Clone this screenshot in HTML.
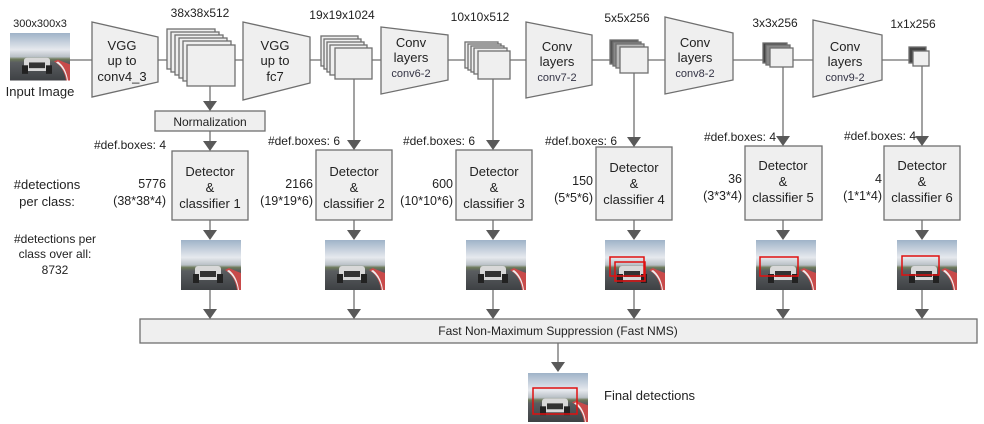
<!DOCTYPE html>
<html><head><meta charset="utf-8"><style>
html,body{margin:0;padding:0;background:#fff;}
svg{display:block;font-family:"Liberation Sans",Arial,sans-serif;}
</style></head><body>
<svg width="984" height="424" viewBox="0 0 984 424" xmlns="http://www.w3.org/2000/svg">
<defs>
<linearGradient id="sky" x1="0" y1="0" x2="0" y2="1">
<stop offset="0" stop-color="#9fb3c8"/><stop offset="0.35" stop-color="#e6e9ee"/><stop offset="0.5" stop-color="#b9c0c6"/><stop offset="0.55" stop-color="#6d7a5a"/><stop offset="0.62" stop-color="#5a5d60"/><stop offset="1" stop-color="#3e4144"/>
</linearGradient>
<g id="car">
<rect x="0" y="0" width="60" height="50" fill="url(#sky)"/>
<path d="M44 30 Q54 36 56 50 L60 50 L60 33 Q52 30 48 28 Z" fill="#c84a4a"/>
<path d="M46 31 Q55 37 57 50 L58 50 Q56 36 48 30 Z" fill="#eee"/>
<rect x="14" y="26" width="26" height="14" rx="3" fill="#d8d8d8"/>
<rect x="12" y="34" width="6" height="9" fill="#222"/><rect x="36" y="34" width="6" height="9" fill="#222"/>
<rect x="19" y="31" width="16" height="6" fill="#333"/>
</g>
</defs>
<g stroke="#6f6f6f" stroke-width="1.3" fill="none">
<line x1="70" y1="60" x2="910" y2="60"/>
</g>
<g fill="#efefef" stroke="#6f6f6f" stroke-width="1.3">
<polygon points="92,22 158,37 158,82 92,97"/>
<polygon points="243,22 310,37 310,83 243,100"/>
<polygon points="381,27 448,35 448,80 381,94"/>
<polygon points="526,22 592,35 592,85 526,98"/>
<polygon points="665,17 733,33 733,80 665,94"/>
<polygon points="813,20 882,35 882,80 813,97"/>
<!-- stack1 -->
<rect x="167" y="29" width="48" height="40"/><rect x="171" y="32" width="48" height="40"/><rect x="175" y="35" width="48" height="40"/><rect x="179" y="38" width="48" height="40"/><rect x="183" y="41" width="48" height="40"/><rect x="187" y="45" width="48" height="41"/>
<!-- stack2 -->
<rect x="321" y="36" width="37" height="30"/><rect x="324" y="39" width="37" height="30"/><rect x="327" y="42" width="37" height="30"/><rect x="330" y="45" width="37" height="30"/><rect x="335" y="48" width="37" height="31"/>
<!-- stack3 -->
<rect x="465" y="42" width="33" height="26"/><rect x="468" y="44" width="33" height="26"/><rect x="471" y="46" width="33" height="26"/><rect x="474" y="48" width="33" height="26"/><rect x="478" y="51" width="32" height="28"/>
</g>
<g stroke="#6f6f6f" stroke-width="1.3">
<rect x="610" y="40" width="28" height="24" fill="#555"/><rect x="613" y="42" width="28" height="24" fill="#888"/><rect x="616" y="44" width="28" height="24" fill="#bbb"/><rect x="620" y="47" width="28" height="26" fill="#efefef"/>
<rect x="763" y="43" width="24" height="20" fill="#444"/><rect x="766" y="45" width="24" height="20" fill="#888"/><rect x="770" y="48" width="23" height="19" fill="#efefef"/>
<rect x="909" y="47" width="17" height="16" fill="#444"/><rect x="913" y="51" width="16" height="15" fill="#efefef"/>
</g>
<g fill="#efefef" stroke="#6f6f6f" stroke-width="1.3">
<rect x="155" y="111" width="110" height="20"/>
<rect x="172" y="151" width="76" height="69"/>
<rect x="316" y="150" width="76" height="70"/>
<rect x="456" y="150" width="76" height="70"/>
<rect x="596" y="147" width="76" height="73"/>
<rect x="745" y="146" width="77" height="74"/>
<rect x="884" y="146" width="76" height="74"/>
<rect x="140" y="319" width="837" height="24"/>
</g>
<g stroke="#6f6f6f" stroke-width="1.3">
<line x1="210" y1="86" x2="210" y2="102"/><line x1="210" y1="131" x2="210" y2="142"/>
<line x1="354" y1="79" x2="354" y2="142"/><line x1="493" y1="79" x2="493" y2="142"/>
<line x1="634" y1="73" x2="634" y2="139"/><line x1="783" y1="67" x2="783" y2="138"/><line x1="922" y1="66" x2="922" y2="138"/>
<line x1="210" y1="220" x2="210" y2="232"/><line x1="354" y1="220" x2="354" y2="232"/><line x1="493" y1="220" x2="493" y2="232"/><line x1="634" y1="220" x2="634" y2="232"/><line x1="783" y1="220" x2="783" y2="232"/><line x1="922" y1="220" x2="922" y2="232"/>
<line x1="210" y1="290" x2="210" y2="310"/><line x1="354" y1="290" x2="354" y2="310"/><line x1="493" y1="290" x2="493" y2="310"/><line x1="634" y1="290" x2="634" y2="310"/><line x1="783" y1="290" x2="783" y2="310"/><line x1="922" y1="290" x2="922" y2="310"/>
<line x1="558" y1="343" x2="558" y2="363"/>
</g>
<g fill="#595959">
<polygon points="203,101 217,101 210,111"/><polygon points="203,141 217,141 210,151"/>
<polygon points="347,140 361,140 354,150"/><polygon points="486,140 500,140 493,150"/>
<polygon points="627,137 641,137 634,147"/><polygon points="776,136 790,136 783,146"/><polygon points="915,136 929,136 922,146"/>
<polygon points="203,230 217,230 210,240"/><polygon points="347,230 361,230 354,240"/><polygon points="486,230 500,230 493,240"/><polygon points="627,230 641,230 634,240"/><polygon points="776,230 790,230 783,240"/><polygon points="915,230 929,230 922,240"/>
<polygon points="203,309 217,309 210,319"/><polygon points="347,309 361,309 354,319"/><polygon points="486,309 500,309 493,319"/><polygon points="627,309 641,309 634,319"/><polygon points="776,309 790,309 783,319"/><polygon points="915,309 929,309 922,319"/>
<polygon points="551,362 565,362 558,372"/>
</g>
<use href="#car" transform="translate(10,33) scale(1,0.95)"/>
<use href="#car" transform="translate(181,240)"/>
<use href="#car" transform="translate(325,240)"/>
<use href="#car" transform="translate(466,240)"/>
<use href="#car" transform="translate(605,240)"/>
<use href="#car" transform="translate(756,240)"/>
<use href="#car" transform="translate(897,240)"/>
<use href="#car" transform="translate(528,373) scale(1,0.98)"/>
<g fill="none" stroke="#e01010" stroke-width="1.5">
<rect x="610" y="257" width="34" height="19"/><rect x="615" y="262" width="30" height="19"/>
<rect x="760" y="257" width="38" height="19"/>
<rect x="902" y="256" width="37" height="19"/>
<rect x="533" y="388" width="44" height="26"/>
</g>
<g fill="#222" font-size="12" text-anchor="middle">
<text x="40" y="27" font-size="11">300x300x3</text>
<text x="40" y="96" font-size="13">Input Image</text>
<text x="200" y="17">38x38x512</text>
<text x="342" y="19">19x19x1024</text>
<text x="480" y="21">10x10x512</text>
<text x="627" y="22">5x5x256</text>
<text x="775" y="27">3x3x256</text>
<text x="913" y="28">1x1x256</text>
<text x="122" y="50" font-size="13">VGG</text><text x="122" y="65" font-size="13">up to</text><text x="122" y="81" font-size="13">conv4_3</text>
<text x="275" y="50" font-size="13">VGG</text><text x="275" y="65" font-size="13">up to</text><text x="275" y="81" font-size="13">fc7</text>
<text x="411" y="47" font-size="13">Conv</text><text x="411" y="62" font-size="13">layers</text><text x="411" y="77" fill="#334" font-size="11">conv6-2</text>
<text x="557" y="51" font-size="13">Conv</text><text x="557" y="66" font-size="13">layers</text><text x="557" y="81" fill="#334" font-size="11">conv7-2</text>
<text x="695" y="47" font-size="13">Conv</text><text x="695" y="62" font-size="13">layers</text><text x="695" y="77" fill="#334" font-size="11">conv8-2</text>
<text x="845" y="51" font-size="13">Conv</text><text x="845" y="66" font-size="13">layers</text><text x="845" y="81" fill="#334" font-size="11">conv9-2</text>
<text x="210" y="126">Normalization</text>
<g font-size="13">
<text x="210" y="176">Detector</text><text x="210" y="192">&amp;</text><text x="210" y="208">classifier 1</text>
<text x="354" y="176">Detector</text><text x="354" y="192">&amp;</text><text x="354" y="208">classifier 2</text>
<text x="494" y="176">Detector</text><text x="494" y="192">&amp;</text><text x="494" y="208">classifier 3</text>
<text x="634" y="172">Detector</text><text x="634" y="188">&amp;</text><text x="634" y="204">classifier 4</text>
<text x="783" y="170">Detector</text><text x="783" y="186">&amp;</text><text x="783" y="202">classifier 5</text>
<text x="922" y="170">Detector</text><text x="922" y="186">&amp;</text><text x="922" y="202">classifier 6</text>
<text x="47" y="189">#detections</text><text x="47" y="206">per class:</text>
</g>
<text x="55" y="243">#detections per</text><text x="55" y="258">class over all:</text><text x="55" y="274">8732</text>
<text x="558" y="335">Fast Non-Maximum  Suppression (Fast NMS)</text>
</g>
<g fill="#222" font-size="12" text-anchor="end">
<text x="166" y="149">#def.boxes: 4</text>
<text x="340" y="145">#def.boxes: 6</text>
<text x="475" y="145">#def.boxes: 6</text>
<text x="617" y="145">#def.boxes: 6</text>
<text x="776" y="141">#def.boxes: 4</text>
<text x="916" y="140">#def.boxes: 4</text>
<g font-size="12.5">
<text x="166" y="188">5776</text><text x="166" y="205">(38*38*4)</text>
<text x="313" y="188">2166</text><text x="313" y="205">(19*19*6)</text>
<text x="453" y="188">600</text><text x="453" y="205">(10*10*6)</text>
<text x="593" y="185">150</text><text x="593" y="202">(5*5*6)</text>
<text x="742" y="183">36</text><text x="742" y="200">(3*3*4)</text>
<text x="882" y="183">4</text><text x="882" y="200">(1*1*4)</text>
</g>
</g>
<text x="604" y="400" font-size="13" fill="#222">Final detections</text>
</svg>
</body></html>
